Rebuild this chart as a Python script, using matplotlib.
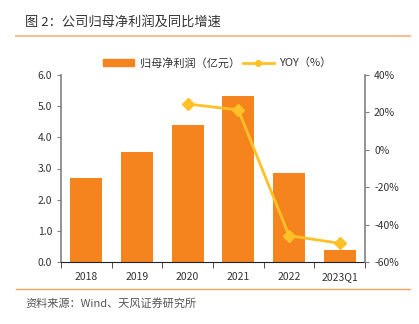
import matplotlib
matplotlib.use("Agg")
import matplotlib.pyplot as plt
from matplotlib.lines import Line2D
from matplotlib.patches import Patch

plt.rcParams['font.family'] = ['Noto Sans CJK SC', 'DejaVu Sans']

# data
categories = ['2018', '2019', '2020', '2021', '2022', '2023Q1']
profit = [2.68, 3.54, 4.41, 5.32, 2.85, 0.38]          # 归母净利润（亿元）
yoy_idx = [2, 3, 4, 5]
yoy = [24.5, 21.3, -45.9, -50.0]                       # YOY（%）

bar_color = '#F5841F'
line_color = '#FFC125'
text_color = '#333333'
rule_color = '#F7A25E'

fig = plt.figure(figsize=(4.19, 3.24), dpi=100)
ax = fig.add_axes([61 / 419, 1 - 262 / 324, 304 / 419, 187 / 324])
ax2 = ax.twinx()

x = list(range(len(categories)))
ax.bar(x, profit, width=0.63, color=bar_color, zorder=2)
ax2.plot(yoy_idx, yoy, color=line_color, lw=2, marker='D', ms=6,
         markeredgecolor=line_color, zorder=3)

ax.set_xlim(-0.5, len(categories) - 0.5)
ax.set_ylim(0, 6)
ax.set_yticks([i * 1.0 for i in range(7)])
ax.set_yticklabels([f'{i:.1f}' for i in range(7)])
ax2.set_ylim(-60, 40)
ax2.set_yticks(range(-60, 41, 20))
ax2.set_yticklabels([f'{v}%' for v in range(-60, 41, 20)])

ax.set_xticks(x)
ax.set_xticklabels(categories)
ax.set_xticks([i + 0.5 for i in range(-1, len(categories))], minor=True)
ax.tick_params(axis='x', which='major', length=0, pad=7)
ax.tick_params(axis='x', which='minor', length=4, direction='out', color='#333333')

for a in (ax, ax2):
    a.spines['top'].set_visible(False)
    a.tick_params(axis='both', labelsize=7.5, colors=text_color)
    a.tick_params(axis='y', length=3, color='#808080')
ax.spines['left'].set_color('#808080')
ax.spines['right'].set_visible(False)
ax2.spines['left'].set_visible(False)
ax2.spines['right'].set_color('#808080')
ax2.spines['bottom'].set_visible(False)
ax.spines['bottom'].set_color('#222222')
ax.spines['left'].set_linewidth(1.2)
ax2.spines['right'].set_linewidth(1.2)

handles = [Patch(color=bar_color),
           Line2D([0], [0], color=line_color, lw=2, marker='o', ms=4)]
ax.legend(handles, ['归母净利润（亿元）', 'YOY（%）'], loc='lower center',
          bbox_to_anchor=(0.515, 1.0), ncol=2, frameon=False, fontsize=8,
          handlelength=2.8, handleheight=0.6, handletextpad=0.5,
          columnspacing=0.25, borderaxespad=0.2, labelcolor=text_color)

# title, rules and source
fig.text(25 / 419, 1 - 22 / 324, '图 2：公司归母净利润及同比增速', fontsize=9.5,
         color=text_color, va='center', ha='left')
fig.add_artist(Line2D([16 / 419, 410 / 419], [1 - 36 / 324, 1 - 36 / 324],
                      color='#F9BE92', lw=1.5))
fig.add_artist(Line2D([16 / 419, 410 / 419], [1 - 289 / 324, 1 - 289 / 324],
                      color=rule_color, lw=1.0))
fig.text(25 / 419, 1 - 303 / 324, '资料来源：Wind、天风证券研究所', fontsize=8,
         color='#555555', va='center', ha='left')

fig.savefig('out.png', dpi=100)
